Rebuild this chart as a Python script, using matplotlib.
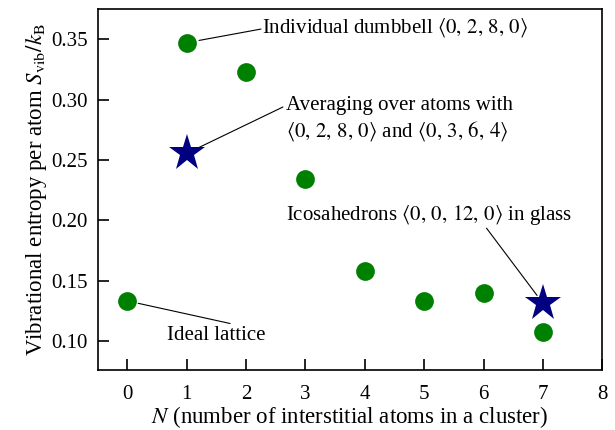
import matplotlib
matplotlib.use("Agg")
import matplotlib.pyplot as plt

plt.rcParams['font.family'] = ['Liberation Serif', 'DejaVu Serif']
plt.rcParams['mathtext.fontset'] = 'stix'
plt.rcParams['font.size'] = 15

# vibrational entropy per atom vs number of interstitials in the cluster
n_cluster = [0, 1, 2, 3, 4, 5, 6, 7]
s_vib = [0.1332, 0.3472, 0.3226, 0.2345, 0.1580, 0.1334, 0.1396, 0.1077]

# averaged values (stars)
n_avg = [1, 7]
s_avg = [0.2555, 0.1313]

fig = plt.figure(figsize=(6.15, 4.30), dpi=100)
ax = fig.add_axes([0.1589, 0.1388, 0.9793 - 0.1589, 0.979 - 0.1388])

ax.plot(n_cluster, s_vib, 'o', color='green', markersize=13.5, markeredgewidth=0, zorder=3)
ax.plot(n_avg, s_avg, '*', color='navy', markersize=28, markeredgewidth=0, zorder=4)

ax.set_xlim(-0.5, 8)
ax.set_ylim(0.0757, 0.3751)
ax.set_xticks(range(0, 9))
ax.set_yticks([0.10, 0.15, 0.20, 0.25, 0.30, 0.35])
ax.set_yticklabels(['0.10', '0.15', '0.20', '0.25', '0.30', '0.35'])
ax.tick_params(direction='in', length=8, width=1.2, top=False, right=False)
ax.tick_params(axis='y', pad=7)
ax.tick_params(axis='x', pad=10.5)
for sp in ax.spines.values():
    sp.set_linewidth(1.2)

ax.set_xlabel(r'$N$ (number of interstitial atoms in a cluster)', fontsize=16.5, labelpad=0)
ax.set_ylabel(r'Vibrational entropy per atom $S_{\mathrm{vib}}/k_{\mathrm{B}}$', fontsize=16.5,
              labelpad=2)

line = dict(arrowstyle='-', color='black', lw=0.8, shrinkA=0)

# leader lines
ax.annotate('', xy=(n_cluster[1], s_vib[1]), xytext=(2.25, 0.3585),
            arrowprops=dict(line, shrinkB=9))
ax.annotate('', xy=(n_avg[0], s_avg[0]), xytext=(2.62, 0.2939),
            arrowprops=dict(line, shrinkB=10))
ax.annotate('', xy=(n_avg[1], s_avg[1]), xytext=(6.05, 0.1935),
            arrowprops=dict(line, shrinkB=7))
ax.annotate('', xy=(n_cluster[0], s_vib[0]), xytext=(1.73, 0.1145),
            arrowprops=dict(line, shrinkB=8))

fs = 15
ax.text(2.27, 0.3594, r'Individual dumbbell $\langle 0,\,2,\,8,\,0\rangle$',
        va='center', ha='left', fontsize=fs)
ax.text(2.67, 0.2835, 'Averaging over atoms with\n'
        r'$\langle 0,\,2,\,8,\,0\rangle$ and $\langle 0,\,3,\,6,\,4\rangle$',
        va='center', ha='left', fontsize=fs, linespacing=1.25)
ax.text(2.67, 0.2043, r'Icosahedrons $\langle 0,\,0,\,12,\,0\rangle$ in glass',
        va='center', ha='left', fontsize=fs)
ax.text(0.663, 0.1048, 'Ideal lattice', va='center', ha='left', fontsize=fs)

fig.savefig('out.png', dpi=100)
